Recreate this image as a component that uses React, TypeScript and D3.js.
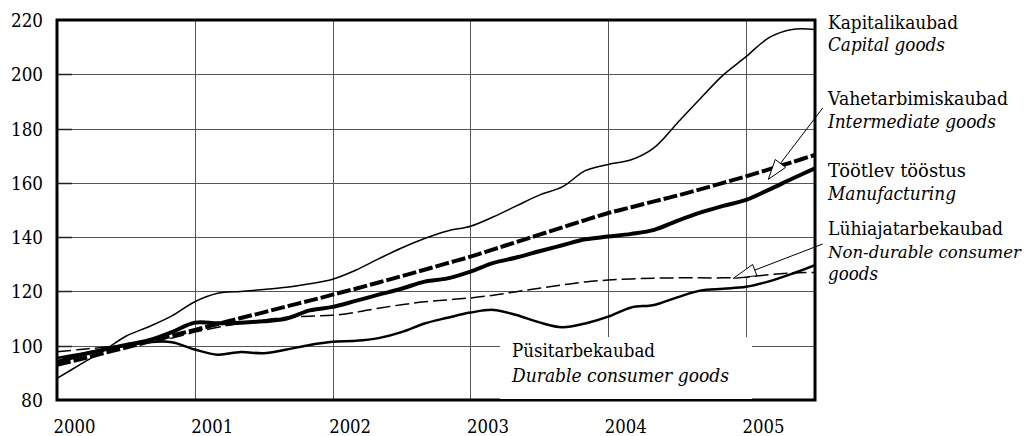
import React from "react";
import * as d3 from "d3";

// Bi-monthly observations, Jan 2000 .. Jul 2005 (index k -> 2000 + k/6)
const capitalGoods = [88, 93, 98, 103.5, 107, 111, 116.2, 119.3, 120, 120.7, 121.5, 122.8, 124.5, 127.8, 132, 136, 139.5, 142.3, 144, 147.5, 151.5, 155.5, 158.5, 164.5, 166.8, 168.5, 173, 182, 191, 199.7, 206.5, 213.5, 216.5, 216.5];
const intermediateGoods = [93, 95, 97.2, 99.3, 101.5, 103.7, 105.8, 108, 110.2, 112.3, 114.5, 116.6, 118.8, 121, 123.3, 125.6, 128, 130.4, 132.8, 135.5, 138.2, 140.9, 143.6, 146.3, 148.9, 151, 153.2, 155.3, 157.6, 160, 162.4, 165, 167.6, 170.3];
const manufacturing = [94, 96.5, 98.5, 100.3, 102, 105, 108.5, 108.3, 108.5, 109, 110, 113, 114.3, 116.5, 118.8, 121, 123.6, 124.8, 127.3, 130.5, 132.5, 134.8, 137, 139.2, 140.2, 141.2, 142.7, 146, 149, 151.5, 153.7, 157.5, 161.5, 165.4];
const nonDurable = [97.8, 98.6, 99.4, 100.3, 101.2, 102.8, 105, 106.8, 108.3, 109.5, 110.5, 110.9, 111.2, 112.3, 113.8, 115.1, 116.2, 116.9, 117.6, 118.6, 119.9, 121.2, 122.4, 123.5, 124.2, 124.6, 124.9, 125, 125, 125, 125.2, 126.2, 126.8, 127];
const durable = [95.5, 97, 98.5, 100, 101.3, 101.3, 98.6, 96.7, 97.7, 97.2, 98.6, 100.3, 101.5, 101.8, 102.8, 105, 108.2, 110.3, 112.2, 113.2, 111.3, 108.6, 106.8, 108.2, 110.7, 114.1, 115, 117.8, 120.3, 121, 121.7, 123.7, 126.5, 129.7];

const yearTicks = [2000, 2001, 2002, 2003, 2004, 2005];
const yTicks = [80, 100, 120, 140, 160, 180, 200, 220];

const W = 1031, H = 436;
const L = 57, T = 20, R = 815, B = 400;
const FONT = "'DejaVu Serif', serif";

export default function App() {
  const x = d3.scaleLinear().domain([2000, 2005.5]).range([L, R]);
  const y = d3.scaleLinear().domain([80, 220]).range([B, T]);
  const t = (i: number) => 2000 + i / 6;
  const line = d3
    .line<number>()
    .x((_, i) => x(t(i)))
    .y((d) => y(d))
    .curve(d3.curveCatmullRom.alpha(0.5));

  const series = [
    { data: nonDurable, w: 1.5, dash: "14,5" },
    { data: durable, w: 2.5, dash: undefined },
    { data: capitalGoods, w: 1.5, dash: undefined },
    { data: manufacturing, w: 4, dash: undefined },
    { data: intermediateGoods, w: 4, dash: "14,3" },
  ];

  const arrow = (x1: number, y1: number, x2: number, y2: number, len: number, hw: number) => {
    const dx = x2 - x1, dy = y2 - y1;
    const d = Math.hypot(dx, dy);
    const ux = dx / d, uy = dy / d;
    const bx = x2 - ux * len, by = y2 - uy * len;
    const px = -uy, py = ux;
    return (
      <g>
        <line x1={x1} y1={y1} x2={bx} y2={by} stroke="#000" strokeWidth={1} />
        <polygon
          points={`${x2},${y2} ${bx + px * hw},${by + py * hw} ${bx - px * hw},${by - py * hw}`}
          fill="#fff"
          stroke="#000"
          strokeWidth={1}
        />
      </g>
    );
  };

  const Txt = (p: { x: number; y: number; w: number; italic?: boolean; anchor?: string; size?: number; children: React.ReactNode }) => (
    <text
      x={p.x}
      y={p.y}
      style={{ fontFamily: FONT, fontSize: `${p.size ?? 19}px`, fontStyle: p.italic ? "italic" : "normal" }}
      textAnchor={p.anchor as any}
      textLength={p.w}
      lengthAdjust="spacingAndGlyphs"
    >
      {p.children}
    </text>
  );

  return (
    <svg width={W} height={H} style={{ position: "absolute", left: 0, top: 0, background: "#fff" }}>
      <defs>
        <clipPath id="plot">
          <rect x={L} y={T} width={R - L} height={B - T} />
        </clipPath>
      </defs>
      <rect x={0} y={0} width={W} height={H} fill="#fff" />
      {yTicks.filter((v) => v > 80 && v < 220).map((v) => (
        <g key={v}>
          <line x1={L} x2={R} y1={Math.round(y(v)) + 0.5} y2={Math.round(y(v)) + 0.5} stroke="#555" strokeWidth={1} />
          <line x1={L} x2={L + 15} y1={Math.round(y(v)) + 0.5} y2={Math.round(y(v)) + 0.5} stroke="#222" strokeWidth={1.5} />
        </g>
      ))}
      {yearTicks.filter((yr) => yr > 2000).map((yr) => (
        <line key={yr} x1={Math.round(x(yr)) + 0.5} x2={Math.round(x(yr)) + 0.5} y1={T} y2={B} stroke="#555" strokeWidth={1} />
      ))}
      <g clipPath="url(#plot)">
        {series.map((s, i) => (
          <path key={i} d={line(s.data) || ""} fill="none" stroke="#000" strokeWidth={s.w} strokeDasharray={s.dash} strokeLinejoin="round" />
        ))}
      </g>
      <rect x={L} y={T} width={R - L} height={B - T} fill="none" stroke="#000" strokeWidth={3} />
      <rect x={500} y={337} width={252} height={62} fill="#fff" />
      <Txt x={512} y={357} w={143}>Püsitarbekaubad</Txt>
      <Txt x={512} y={382} w={217} italic>Durable consumer goods</Txt>
      {yTicks.map((v) => (
        <Txt key={v} x={43} y={y(v) + 7} w={v >= 100 ? 32 : 22} anchor="end">{v}</Txt>
      ))}
      {yearTicks.map((yr) => (
        <Txt key={yr} x={x(yr) - 3.5} y={433} w={42}>{yr}</Txt>
      ))}
      <Txt x={828} y={29} w={130}>Kapitalikaubad</Txt>
      <Txt x={828} y={51} w={117} italic>Capital goods</Txt>
      <Txt x={828} y={105} w={180}>Vahetarbimiskaubad</Txt>
      <Txt x={828} y={128} w={168} italic>Intermediate goods</Txt>
      <Txt x={828} y={177} w={138}>Töötlev tööstus</Txt>
      <Txt x={828} y={200} w={128} italic>Manufacturing</Txt>
      <Txt x={828} y={235} w={175}>Lühiajatarbekaubad</Txt>
      <Txt x={828} y={258} w={193} italic size={17}>Non-durable consumer</Txt>
      <Txt x={828} y={280} w={50} italic>goods</Txt>
      {arrow(822.7, 108, 768.3, y(intermediateGoods[30]) + 3, 20, 6.5)}
      {arrow(822.7, 244, 733.3, y(nonDurable[29]) + 0.5, 23, 6)}
    </svg>
  );
}
